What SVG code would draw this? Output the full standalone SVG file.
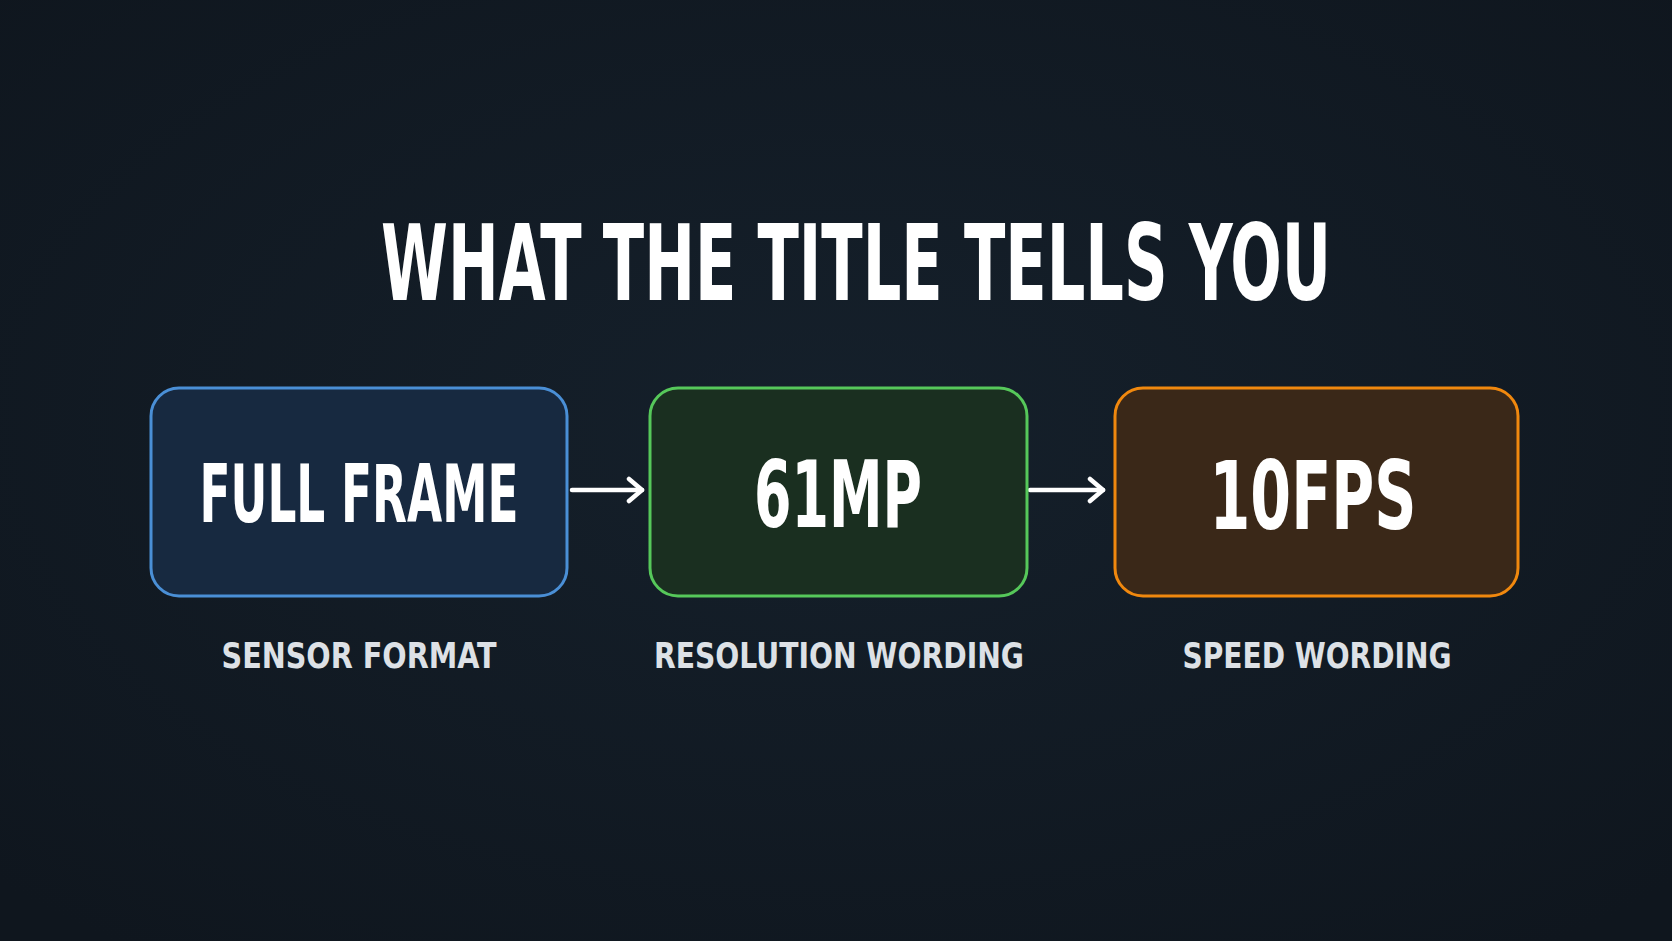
<svg xmlns="http://www.w3.org/2000/svg" width="1672" height="941" viewBox="0 0 1672 941">
<defs>
<radialGradient id="bg" cx="50%" cy="45%" r="70%">
<stop offset="0" stop-color="#15202b"/>
<stop offset="1" stop-color="#0f161e"/>
</radialGradient>
<marker id="ah" viewBox="0 0 24 28" refX="20" refY="14" markerWidth="24" markerHeight="28" markerUnits="userSpaceOnUse" orient="auto">
<path d="M7,3 L20,14 L7,25" fill="none" stroke="#ffffff" stroke-width="4.5" stroke-linecap="round" stroke-linejoin="round"/>
</marker>
</defs>
<style>
.t{font-family:"Liberation Sans Narrow","DejaVu Sans Condensed","Liberation Sans",sans-serif;font-weight:bold;font-stretch:condensed;fill:#ffffff;text-anchor:middle}
.lab{font-family:"Liberation Sans Narrow","DejaVu Sans Condensed","Liberation Sans",sans-serif;font-weight:600;font-stretch:condensed;fill:#dde1e6;text-anchor:middle}
.box{stroke-width:3}
.conn{stroke:#ffffff;stroke-width:4.5;fill:none;stroke-linecap:round}
</style>
<rect width="1672" height="941" fill="url(#bg)"/>
<text id="title" class="t" x="856" y="300" font-size="106" textLength="950" lengthAdjust="spacingAndGlyphs">WHAT THE TITLE TELLS YOU</text>
<g id="connectors">
<line class="conn" x1="572" y1="490" x2="642" y2="490" marker-end="url(#ah)"/>
<line class="conn" x1="1030" y1="490" x2="1103" y2="490" marker-end="url(#ah)"/>
</g>
<g id="node-full-frame">
<rect class="box" x="151" y="388" width="416" height="208" rx="28" fill="#172940" stroke="#4a8fd6"/>
<text class="t" x="359" y="522" font-size="80" textLength="319" lengthAdjust="spacingAndGlyphs">FULL FRAME</text>
<text class="lab" x="359" y="668" font-size="36" textLength="275" lengthAdjust="spacingAndGlyphs">SENSOR FORMAT</text>
</g>
<g id="node-61mp">
<rect class="box" x="650" y="388" width="377" height="208" rx="28" fill="#1a2f20" stroke="#56c85a"/>
<text class="t" x="838" y="527" font-size="93" textLength="168" lengthAdjust="spacingAndGlyphs">61MP</text>
<text class="lab" x="839" y="668" font-size="36" textLength="370" lengthAdjust="spacingAndGlyphs">RESOLUTION WORDING</text>
</g>
<g id="node-10fps">
<rect class="box" x="1115" y="388" width="403" height="208" rx="28" fill="#3a2818" stroke="#f0880e"/>
<text class="t" x="1313" y="529" font-size="94" textLength="207" lengthAdjust="spacingAndGlyphs">10FPS</text>
<text class="lab" x="1317" y="668" font-size="36" textLength="269" lengthAdjust="spacingAndGlyphs">SPEED WORDING</text>
</g>
</svg>
